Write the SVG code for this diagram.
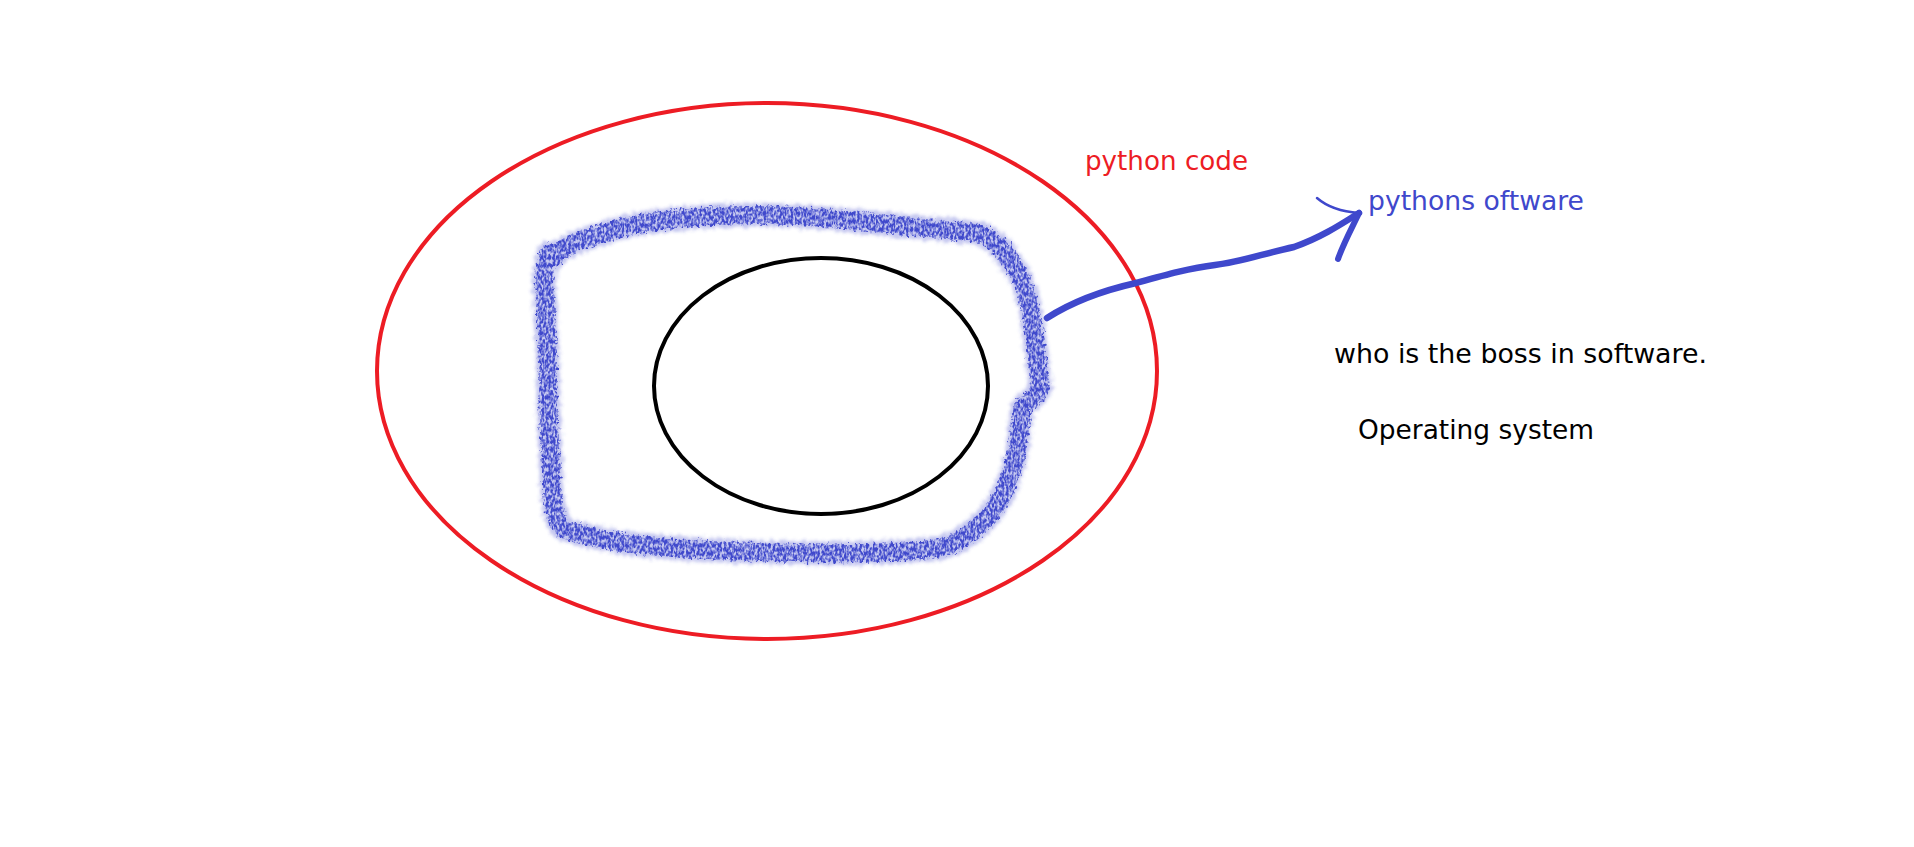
<svg xmlns="http://www.w3.org/2000/svg" width="1914" height="847" viewBox="0 0 1914 847">
<style>
.lbl{font-family:"DejaVu Sans","Verdana",sans-serif;font-size:26.5px}
.blue{stroke:#3f48cc;fill:none;stroke-linecap:round;stroke-linejoin:round}
</style>
<defs>
<filter id="fringe" x="-10%" y="-10%" width="120%" height="120%">
<feTurbulence type="fractalNoise" baseFrequency="0.3" numOctaves="2" seed="4" result="n"/>
<feDisplacementMap in="SourceGraphic" in2="n" scale="10" xChannelSelector="R" yChannelSelector="G" result="d"/>
<feGaussianBlur in="d" stdDeviation="1.5"/>
</filter>
<filter id="crayon" x="-10%" y="-10%" width="120%" height="120%">
<feTurbulence type="fractalNoise" baseFrequency="0.3" numOctaves="2" seed="9" result="n"/>
<feDisplacementMap in="SourceGraphic" in2="n" scale="9" xChannelSelector="R" yChannelSelector="G" result="d"/>
<feTurbulence type="fractalNoise" baseFrequency="0.45 0.25" numOctaves="2" seed="7" result="n2"/>
<feColorMatrix in="n2" type="matrix" values="0 0 0 0 0  0 0 0 0 0  0 0 0 0 0  0 0 0 3 -0.9" result="m"/>
<feComposite in="d" in2="m" operator="in" result="t"/>
<feGaussianBlur in="t" stdDeviation="0.7"/>
</filter>
</defs>
<rect width="1914" height="847" fill="#ffffff"/>
<g id="python-code">
<ellipse cx="767" cy="371" rx="390" ry="268" fill="none" stroke="#ed1c24" stroke-width="4"/>
<text class="lbl" x="1085" y="170" fill="#ed1c24" textLength="163" lengthAdjust="spacingAndGlyphs">python code</text>
</g>
<g id="python-software">
<path d="M553,258 C565,245 580,240 600,234 C625,226 650,220 700,217 C740,214 780,215 813,217 C850,220 900,226 979,233 C995,240 1005,250 1010,262 C1022,275 1030,300 1034,333 C1036,350 1037,365 1041,387 C1035,398 1028,402 1023,407 C1020,420 1020,440 1015,460 C1008,485 1000,505 985,520 C970,535 955,545 940,548 C900,553 860,554 800,553 C740,552 690,550 640,545 C600,540 580,535 562,528 C552,515 552,495 551,467 C549,430 548,400 548,367 C547,330 545,300 544,283 C544,270 546,260 549,253" class="blue" stroke-width="24" stroke-opacity="0.3" filter="url(#fringe)"/>
<path d="M553,258 C565,245 580,240 600,234 C625,226 650,220 700,217 C740,214 780,215 813,217 C850,220 900,226 979,233 C995,240 1005,250 1010,262 C1022,275 1030,300 1034,333 C1036,350 1037,365 1041,387 C1035,398 1028,402 1023,407 C1020,420 1020,440 1015,460 C1008,485 1000,505 985,520 C970,535 955,545 940,548 C900,553 860,554 800,553 C740,552 690,550 640,545 C600,540 580,535 562,528 C552,515 552,495 551,467 C549,430 548,400 548,367 C547,330 545,300 544,283 C544,270 546,260 549,253" class="blue" stroke-width="18" filter="url(#crayon)"/>
<text class="lbl" x="1368" y="210" fill="#3f48cc" textLength="216" lengthAdjust="spacingAndGlyphs">pythons oftware</text>
</g>
<g id="operating-system">
<ellipse cx="821" cy="386" rx="167" ry="128" fill="none" stroke="#000000" stroke-width="4"/>
</g>
<g id="notes">
<text class="lbl" x="1334" y="363" fill="#000000" textLength="373" lengthAdjust="spacingAndGlyphs">who is the boss in software.</text>
<text class="lbl" x="1358" y="439" fill="#000000" textLength="236" lengthAdjust="spacingAndGlyphs">Operating system</text>
</g>
<g id="connectors">
<path class="blue" stroke-width="6.5" d="M1047,318 C1075,300 1105,290 1136,283 C1165,275 1190,268 1215,265 C1240,262 1262,254 1294,247 C1320,238 1340,225 1359,213"/>
<path class="blue" stroke-width="6" d="M1359,213 C1352,228 1344,242 1338,259"/>
<path class="blue" stroke-width="2.5" d="M1317,198 Q1332,211 1359,213"/>
</g>
</svg>
